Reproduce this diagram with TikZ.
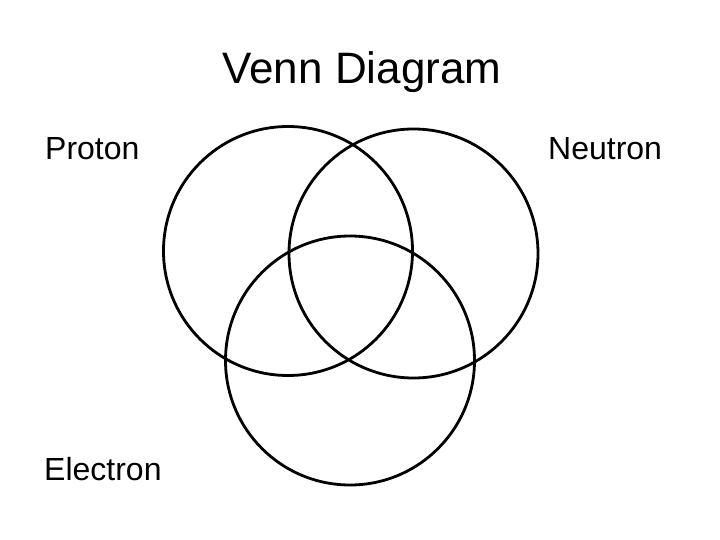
\documentclass[tikz,border=0pt]{standalone}
\usepackage{fontspec}
\setmainfont{Liberation Sans}
\usetikzlibrary{positioning}
\tikzset{
	set/.style={draw=black, line width=2.8pt},
	label/.style={inner sep=0pt, anchor=base west, font=\fontsize{32}{36}\selectfont}
}

\begin{document}
\begin{tikzpicture}[x=1pt, y=-1pt, line cap=round, line join=round]
			\useasboundingbox (0,0) rectangle (720,540);
			
			% Title
			\node[inner sep=0pt, anchor=base, font=\fontsize{44}{50}\selectfont] (title) at (362,84) {Venn Diagram};
			
			% Sets
			\draw[set] (288,251) circle[radius=124.5];
			\draw[set] (413.5,253.5) circle[radius=124.5];
			\draw[set] (350,360.5) circle[radius=124.5];
			
			% Set labels
			\node[label] (proton) at (45,160) {Proton};
			\node[label] (neutron) at (548,160) {Neutron};
			\node[label] (electron) at (44,480) {Electron};
			
		\end{tikzpicture}
\end{document}
